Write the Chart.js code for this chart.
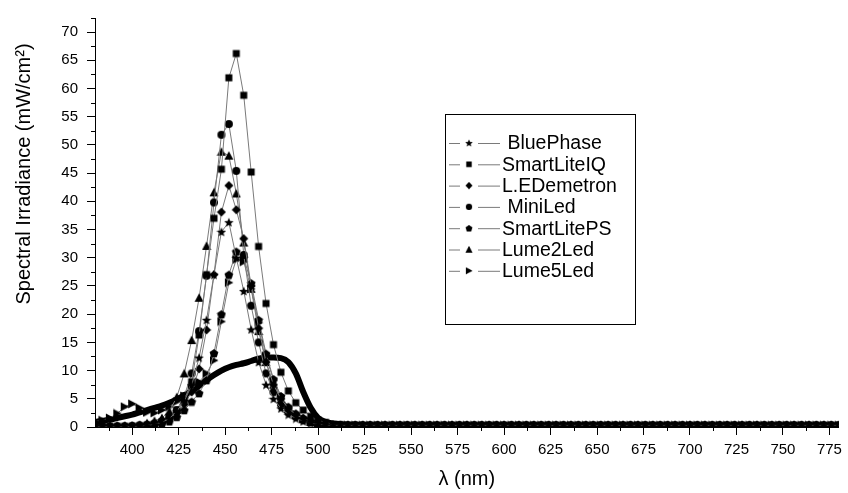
<!DOCTYPE html>
<html>
<head>
<meta charset="utf-8">
<script src="https://cdn.jsdelivr.net/npm/chart.js@4.4.1/dist/chart.umd.min.js"></script>
<style>
  body { margin: 0; background: #fff; }
  #spectra { display: block; }
</style>
</head>
<body>
<canvas id="spectra" width="848" height="493"></canvas>
<script>
// wavelength grid of the measured spectra (nm)
const wavelengths = [380,384,388,392,396,400,404,408,412,416,420,424,428,432,436,440,444,448,452,456,460,464,468,472,476,480,484,488,492,496,500,504,508,512,516,520,524,528,532,536,540,
  544,548,552,556,560,564,568,572,576,580,584,588,592,596,600,604,608,612,616,620,624,628,632,636,640,644,648,652,656,660,664,668,672,676,680,684,688,692,696,700,704,708,712,716,720,724,728,732,736,740,744,748,752,756,760,764,768,772,776,780];

const lampNames = [' BluePhase', 'SmartLiteIQ', 'L.EDemetron', ' MiniLed', 'SmartLitePS', 'Lume2Led', 'Lume5Led'];

const bluePhase = [0.1,0.1,0.1,0.1,0.1,0.2,0.2,0.3,0.5,0.8,1.5,2.8,4.6,7.4,12.3,19.0,27.0,34.6,36.3,30.0,24.1,17.3,11.5,7.5,5.0,3.3,2.2,1.5,1.0,0.7,0.5,0.4,0.3,0.3,0.3,0.3,0.3,0.3,0.3,0.3,0.3,
  0.3,0.3,0.3,0.3,0.3,0.3,0.3,0.3,0.3,0.3,0.3,0.3,0.3,0.3,0.3,0.3,0.3,0.3,0.3,0.3,0.3,0.3,0.3,0.3,0.3,0.3,0.3,0.3,0.3,0.3,0.3,0.3,0.3,0.3,0.3,0.3,0.3,0.3,0.3,0.3,0.3,0.3,0.3,0.3,0.3,0.3,0.3,0.3,0.3,0.3,0.3,0.3,0.3,0.3,0.3,0.3,0.3,0.3,0.3,0.3];
const smartLiteIQ = [0.1,0.1,0.1,0.1,0.1,0.1,0.2,0.3,0.5,0.9,1.7,3.0,4.8,8.0,16.3,27.0,37.0,45.7,61.9,66.2,58.8,45.2,32.0,21.9,14.6,9.7,6.4,4.3,3.0,1.9,1.2,0.8,0.5,0.4,0.3,0.3,0.3,0.3,0.3,0.3,0.3,
  0.3,0.3,0.3,0.3,0.3,0.3,0.3,0.3,0.3,0.3,0.3,0.3,0.3,0.3,0.3,0.3,0.3,0.3,0.3,0.3,0.3,0.3,0.3,0.3,0.3,0.3,0.3,0.3,0.3,0.3,0.3,0.3,0.3,0.3,0.3,0.3,0.3,0.3,0.3,0.3,0.3,0.3,0.3,0.3,0.3,0.3,0.3,0.3,0.3,0.3,0.3,0.3,0.3,0.3,0.3,0.3,0.3,0.3,0.3,0.3];
const ledemetron = [0.1,0.1,0.1,0.1,0.1,0.1,0.1,0.3,0.5,0.8,1.5,2.5,4.0,6.2,10.3,17.2,27.0,38.1,42.8,38.5,33.4,25.0,17.5,11.5,7.5,5.0,3.3,2.2,1.5,1.0,0.7,0.5,0.4,0.3,0.3,0.3,0.3,0.3,0.3,0.3,0.3,
  0.3,0.3,0.3,0.3,0.3,0.3,0.3,0.3,0.3,0.3,0.3,0.3,0.3,0.3,0.3,0.3,0.3,0.3,0.3,0.3,0.3,0.3,0.3,0.3,0.3,0.3,0.3,0.3,0.3,0.3,0.3,0.3,0.3,0.3,0.3,0.3,0.3,0.3,0.3,0.3,0.3,0.3,0.3,0.3,0.3,0.3,0.3,0.3,0.3,0.3,0.3,0.3,0.3,0.3,0.3,0.3,0.3,0.3,0.3,0.3];
const miniLed = [0.1,0.1,0.1,0.1,0.1,0.2,0.3,0.4,0.6,1.0,1.8,3.0,5.5,9.5,17.0,26.8,39.8,51.8,53.7,45.4,30.5,21.5,15.0,9.5,6.2,4.0,2.6,1.8,1.2,0.8,0.5,0.4,0.3,0.3,0.3,0.3,0.3,0.3,0.3,0.3,0.3,
  0.3,0.3,0.3,0.3,0.3,0.3,0.3,0.3,0.3,0.3,0.3,0.3,0.3,0.3,0.3,0.3,0.3,0.3,0.3,0.3,0.3,0.3,0.3,0.3,0.3,0.3,0.3,0.3,0.3,0.3,0.3,0.3,0.3,0.3,0.3,0.3,0.3,0.3,0.3,0.3,0.3,0.3,0.3,0.3,0.3,0.3,0.3,0.3,0.3,0.3,0.3,0.3,0.3,0.3,0.3,0.3,0.3,0.3,0.3,0.3];
const smartLitePS = [0.1,0.1,0.1,0.1,0.1,0.2,0.2,0.3,0.4,0.6,1.0,1.8,3.0,4.5,6.0,8.3,13.1,20.0,27.0,31.1,30.0,25.5,19.0,13.0,8.5,5.5,3.6,2.4,1.6,1.0,0.6,0.4,0.3,0.3,0.3,0.3,0.3,0.3,0.3,0.3,0.3,
  0.3,0.3,0.3,0.3,0.3,0.3,0.3,0.3,0.3,0.3,0.3,0.3,0.3,0.3,0.3,0.3,0.3,0.3,0.3,0.3,0.3,0.3,0.3,0.3,0.3,0.3,0.3,0.3,0.3,0.3,0.3,0.3,0.3,0.3,0.3,0.3,0.3,0.3,0.3,0.3,0.3,0.3,0.3,0.3,0.3,0.3,0.3,0.3,0.3,0.3,0.3,0.3,0.3,0.3,0.3,0.3,0.3,0.3,0.3,0.3];
const lume2Led = [0.1,0.1,0.1,0.1,0.2,0.2,0.4,0.7,1.1,1.6,2.8,5.3,9.5,15.4,22.9,32.1,41.6,48.8,48.1,41.4,32.7,24.5,17.0,11.5,7.5,4.8,3.2,2.1,1.4,0.9,0.6,0.4,0.3,0.3,0.3,0.3,0.3,0.3,0.3,0.3,0.3,
  0.3,0.3,0.3,0.3,0.3,0.3,0.3,0.3,0.3,0.3,0.3,0.3,0.3,0.3,0.3,0.3,0.3,0.3,0.3,0.3,0.3,0.3,0.3,0.3,0.3,0.3,0.3,0.3,0.3,0.3,0.3,0.3,0.3,0.3,0.3,0.3,0.3,0.3,0.3,0.3,0.3,0.3,0.3,0.3,0.3,0.3,0.3,0.3,0.3,0.3,0.3,0.3,0.3,0.3,0.3,0.3,0.3,0.3,0.3,0.3];
const lume5Led = [1.0,1.2,1.6,2.4,3.6,4.1,3.4,2.6,2.5,3.0,3.6,4.5,5.5,6.8,8.0,9.5,11.8,18.7,25.6,29.7,29.3,24.5,18.5,12.5,8.3,5.4,3.5,2.3,1.5,1.0,0.6,0.4,0.3,0.3,0.3,0.3,0.3,0.3,0.3,0.3,0.3,
  0.3,0.3,0.3,0.3,0.3,0.3,0.3,0.3,0.3,0.3,0.3,0.3,0.3,0.3,0.3,0.3,0.3,0.3,0.3,0.3,0.3,0.3,0.3,0.3,0.3,0.3,0.3,0.3,0.3,0.3,0.3,0.3,0.3,0.3,0.3,0.3,0.3,0.3,0.3,0.3,0.3,0.3,0.3,0.3,0.3,0.3,0.3,0.3,0.3,0.3,0.3,0.3,0.3,0.3,0.3,0.3,0.3,0.3,0.3,0.3];
// the broad dense curve (no legend entry)
const broadCurve = [0.9,1.1,1.3,1.6,1.9,2.2,2.6,3.0,3.4,3.8,4.3,4.9,5.6,6.4,7.3,8.3,9.2,10.0,10.6,11.0,11.3,11.7,12.1,12.3,12.3,12.2,11.5,9.5,6.2,3.4,1.6,0.9,0.6,0.5,0.4,0.4,0.35,0.3,0.3,0.3,0.3,
  0.25,0.25,0.25,0.25,0.25,0.25,0.25,0.25,0.25,0.25,0.25,0.25,0.25,0.25,0.25,0.25,0.25,0.25,0.25,0.25,0.25,0.25,0.25,0.25,0.25,0.25,0.25,0.25,0.25,0.25,0.25,0.25,0.25,0.25,0.25,0.25,0.25,0.25,0.25,0.25,0.25,0.25,0.25,0.25,0.25,0.25,0.25,0.25,0.25,0.25,0.25,0.25,0.25,0.25,0.25,0.25,0.25,0.25,0.25,0.25];

const xTicks = [400,425,450,475,500,525,550,575,600,625,650,675,700,725,750,775];
const yTicks = [0,5,10,15,20,25,30,35,40,45,50,55,60,65,70];

const FONT = '"Liberation Sans", Arial, sans-serif';

// marker images (Chart.js has no pentagon / right triangle / filled star)
function makeMarker(shape) {
    const size = 10;
    const c = document.createElement('canvas');
    c.width = size; c.height = size;
    const g = c.getContext('2d');
    const m = size / 2;
    g.fillStyle = '#000';
    g.beginPath();
    if (shape === 'star') {
        for (let i = 0; i < 10; i++) {
            const r = i % 2 === 0 ? 5 : 2.2;
            const a = -Math.PI / 2 + i * Math.PI / 5;
            g.lineTo(m + r * Math.cos(a), m + 0.5 + r * Math.sin(a));
        }
    } else if (shape === 'square') {
        g.rect(1.5, 1.5, 7, 7);
    } else if (shape === 'diamond') {
        g.moveTo(m, 0.5); g.lineTo(size - 0.5, m); g.lineTo(m, size - 0.5); g.lineTo(0.5, m);
    } else if (shape === 'circle') {
        g.arc(m, m, 4, 0, Math.PI * 2);
    } else if (shape === 'pentagon') {
        for (let i = 0; i < 5; i++) {
            const a = -Math.PI / 2 + i * 2 * Math.PI / 5;
            g.lineTo(m + 4.6 * Math.cos(a), m + 0.5 + 4.6 * Math.sin(a));
        }
    } else if (shape === 'triangle') {
        g.moveTo(m, 0.5); g.lineTo(size - 0.5, size - 1); g.lineTo(0.5, size - 1);
    } else if (shape === 'triangleRight') {
        g.moveTo(1, 0.5); g.lineTo(size - 0.5, m); g.lineTo(1, size - 0.5);
    }
    g.closePath();
    g.fill();
    return c;
}

const markers = ['star', 'square', 'diamond', 'circle', 'pentagon', 'triangle', 'triangleRight'].map(makeMarker);
const seriesValues = [bluePhase, smartLiteIQ, ledemetron, miniLed, smartLitePS, lume2Led, lume5Led];

function toPoints(values) {
    return wavelengths.map((w, i) => ({ x: w, y: values[i] }));
}

const datasets = seriesValues.map((vals, i) => ({
    label: lampNames[i],
    data: toPoints(vals),
    borderColor: '#7a7a7a',
    borderWidth: 1,
    pointStyle: markers[i],
    pointRadius: 4,
    fill: false,
    tension: 0
}));

datasets.push({
    label: '',
    data: toPoints(broadCurve),
    borderColor: '#000',
    borderWidth: 6,
    pointRadius: 0,
    cubicInterpolationMode: 'monotone',
    fill: false
});

const decorPlugin = {
    id: 'decor',
    afterDraw(chart) {
        const ctx = chart.ctx;
        const area = chart.chartArea;
        const x = chart.scales.x, y = chart.scales.y;
        ctx.save();
        // minor ticks
        ctx.strokeStyle = '#000';
        ctx.lineWidth = 1;
        ctx.beginPath();
        xTicks.map(v => v - 12.5).forEach(v => {
            const px = Math.round(x.getPixelForValue(v)) + 0.5;
            ctx.moveTo(px, area.bottom);
            ctx.lineTo(px, area.bottom + 4);
        });
        yTicks.map(v => v + 2.5).forEach(v => {
            const py = Math.round(y.getPixelForValue(v)) + 0.5;
            ctx.moveTo(area.left - 4, py);
            ctx.lineTo(area.left, py);
        });
        ctx.stroke();

        // axis titles
        ctx.fillStyle = '#000';
        ctx.font = '20px ' + FONT;
        ctx.textAlign = 'center';
        ctx.textBaseline = 'middle';
        ctx.fillText('\u03BB (nm)', (area.left + area.right) / 2, 479);
        ctx.translate(24, 174);
        ctx.rotate(-Math.PI / 2);
        ctx.fillText('Spectral Irradiance (mW/cm\u00B2)', 0, 0);
        ctx.restore();

        // legend box
        ctx.save();
        ctx.strokeStyle = '#000';
        ctx.lineWidth = 1;
        ctx.strokeRect(445.5, 114.5, 190, 210);
        ctx.font = '19.5px ' + FONT;
        ctx.textBaseline = 'middle';
        ctx.fillStyle = '#000';
        lampNames.forEach((name, i) => {
            const ry = 143 + i * 21.3;
            ctx.strokeStyle = '#7a7a7a';
            ctx.beginPath();
            ctx.moveTo(449, ry + 0.5); ctx.lineTo(460, ry + 0.5);
            ctx.moveTo(478, ry + 0.5); ctx.lineTo(500, ry + 0.5);
            ctx.stroke();
            const img = markers[i];
            ctx.drawImage(img, 469 - 4, ry - 4, 8, 8);
            ctx.fillText(name, 502, ry + 1);
        });
        ctx.restore();
    }
};

new Chart(document.getElementById('spectra').getContext('2d'), {
    type: 'line',
    data: { datasets: datasets },
    options: {
        responsive: false,
        animation: false,
        layout: { padding: { top: 11, right: 3, left: 0, bottom: 0 } },
        plugins: {
            legend: { display: false },
            tooltip: { enabled: false }
        },
        scales: {
            x: {
                type: 'linear',
                min: 380,
                max: 780,
                afterFit: s => { s.height = 66; },
                afterBuildTicks: s => { s.ticks = xTicks.map(v => ({ value: v })); },
                grid: { drawOnChartArea: false, tickLength: 8, color: '#000' },
                border: { color: '#000', width: 1 },
                ticks: {
                    autoSkip: false,
                    maxRotation: 0,
                    padding: 6,
                    color: '#000',
                    font: { family: FONT, size: 15 }
                }
            },
            y: {
                min: 0,
                max: 72.5,
                afterFit: s => { s.width = 95; },
                afterBuildTicks: s => { s.ticks = yTicks.map(v => ({ value: v })); },
                grid: { drawOnChartArea: false, tickLength: 8, color: '#000' },
                border: { color: '#000', width: 1 },
                ticks: {
                    padding: 9,
                    color: '#000',
                    font: { family: FONT, size: 15 }
                }
            }
        }
    },
    plugins: [decorPlugin]
});
</script>
</body>
</html>
